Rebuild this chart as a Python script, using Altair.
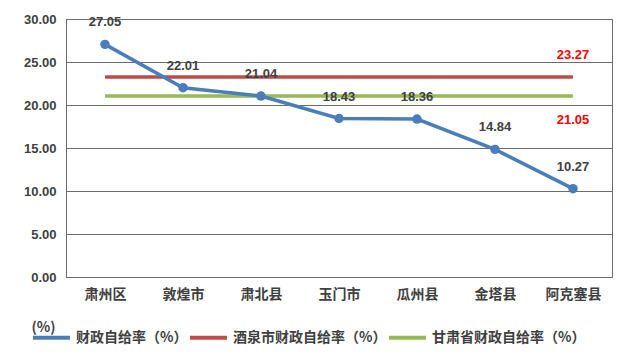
import altair as alt
import pandas as pd

categories = ["肃州区", "敦煌市", "肃北县", "玉门市", "瓜州县", "金塔县", "阿克塞县"]
self_ratio = [27.05, 22.01, 21.04, 18.43, 18.36, 14.84, 10.27]
jiuquan_ratio = 23.27
gansu_ratio = 21.05

series_names = ["财政自给率（%）", "酒泉市财政自给率（%）", "甘肃省财政自给率（%）"]
series_colors = ["#4A7EBB", "#BE4B48", "#98B954"]

rows = []
for c, v in zip(categories, self_ratio):
    rows.append({"cat": c, "val": v, "series": series_names[0]})
for c in categories:
    rows.append({"cat": c, "val": jiuquan_ratio, "series": series_names[1]})
for c in categories:
    rows.append({"cat": c, "val": gansu_ratio, "series": series_names[2]})
df = pd.DataFrame(rows)
main = df[df.series == series_names[0]]
refs = df[df.series != series_names[0]]
jq_label = pd.DataFrame({"cat": [categories[-1]], "val": [jiuquan_ratio],
                         "txt": [f"{jiuquan_ratio:.2f}"]})
gs_label = pd.DataFrame({"cat": [categories[-1]], "val": [gansu_ratio],
                         "txt": [f"{gansu_ratio:.2f}"]})

x = alt.X("cat:N", sort=categories, title=None,
          scale=alt.Scale(paddingInner=0, paddingOuter=0.5),
          axis=alt.Axis(labelAngle=0, ticks=False, domain=False, labelPadding=10,
                        labelFont="Noto Sans CJK SC", labelFontSize=14, labelFontWeight="bold",
                        labelColor="#404040"))
y = alt.Y("val:Q", scale=alt.Scale(domain=[0, 30], nice=False),
          axis=alt.Axis(values=[0, 5, 10, 15, 20, 25, 30], format=".2f", title="(%)",
                        titleAngle=0, titleX=-23, titleY=308, titleAlign="center",
                        titleBaseline="middle",
                        titleFont="Noto Sans CJK SC", titleFontSize=14, titleFontWeight="bold",
                        titleColor="#404040",
                        grid=True, gridColor="#6b6b6b", gridWidth=1, domainColor="#6b6b6b",
                        ticks=False, labelPadding=10, labelFont="Liberation Sans",
                        labelFontSize=13, labelFontWeight="bold", labelColor="#404040"))

color = alt.Color("series:N", scale=alt.Scale(domain=series_names, range=series_colors),
                  legend=alt.Legend(title=None, orient="none", direction="horizontal",
                                    legendX=-35, legendY=298, symbolType="stroke",
                                    symbolSize=1369, symbolStrokeWidth=4, columnPadding=-12,
                                    labelOffset=4, padding=0,
                                    labelFont="Noto Sans CJK SC", labelFontSize=14,
                                    labelFontWeight="bold",
                                    labelColor="#404040", symbolOffset=0))

ref_lines = alt.Chart(refs).mark_line(strokeWidth=3.5).encode(x=x, y=y, color=color)
main_line = alt.Chart(main).mark_line(strokeWidth=3.5).encode(x=x, y=y, color=color)
main_pts = alt.Chart(main).mark_point(filled=True, size=90, opacity=1, color="#4A7EBB").encode(x=x, y=y)
main_txt = alt.Chart(main).mark_text(dy=-22, font="Liberation Sans", fontSize=13,
                                     fontWeight="bold", color="#404040").encode(
    x=x, y=y, text=alt.Text("val:Q", format=".2f"))
jq_txt = alt.Chart(jq_label).mark_text(dy=-22, font="Liberation Sans", fontSize=13,
                                       fontWeight="bold", color="#FF0000").encode(
    x=x, y=y, text="txt:N")
gs_txt = alt.Chart(gs_label).mark_text(dy=24, font="Liberation Sans", fontSize=13,
                                       fontWeight="bold", color="#FF0000").encode(
    x=x, y=y, text="txt:N")

chart = alt.layer(ref_lines, main_line, main_pts, main_txt, jq_txt, gs_txt).properties(
    width=546, height=258,
    autosize=alt.AutoSizeParams(type="none"),
    padding={"left": 58, "top": 11, "right": 12, "bottom": 75},
    background="white",
).configure_view(stroke="#6b6b6b", strokeWidth=1)

chart.save("out.html", embed_options={"renderer": "svg", "actions": False})
